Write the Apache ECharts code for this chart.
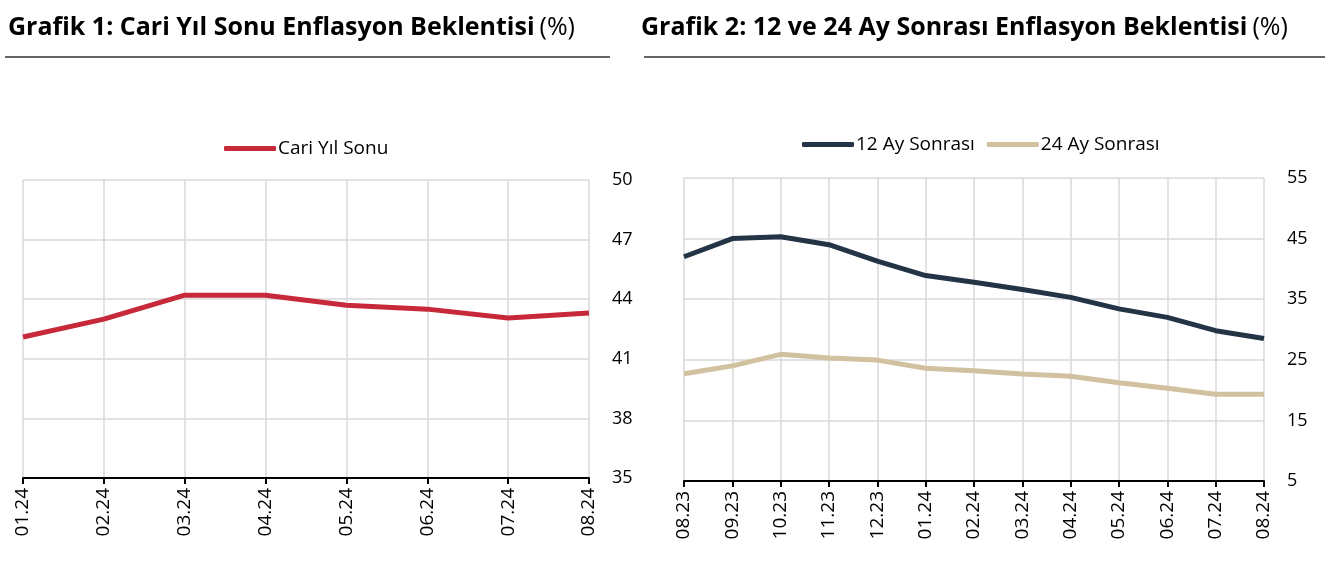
<!DOCTYPE html>
<html style="height: 100%">
<head>
<meta charset="utf-8">
<script src="https://cdn.jsdelivr.net/npm/echarts@6/dist/echarts.min.js"></script>
</head>
<body style="height: 100%; margin: 0; background: #fff">
<div id="container" style="width: 1338px; height: 578px"></div>
<script type="text/javascript">
// Grafik 1
var months1 = ['01.24', '02.24', '03.24', '04.24', '05.24', '06.24', '07.24', '08.24'];
var cariYilSonu = [42.1, 43.0, 44.2, 44.2, 43.7, 43.5, 43.05, 43.3];

// Grafik 2
var months2 = ['08.23', '09.23', '10.23', '11.23', '12.23', '01.24', '02.24', '03.24', '04.24', '05.24', '06.24', '07.24', '08.24'];
var ay12 = [42.0, 45.0, 45.3, 44.0, 41.3, 38.9, 37.8, 36.6, 35.3, 33.4, 32.0, 29.8, 28.5];
var ay24 = [22.7, 24.0, 25.9, 25.3, 24.95, 23.6, 23.2, 22.65, 22.3, 21.2, 20.3, 19.3, 19.3];

var FONT = 'Open Sans';
var dom = document.getElementById('container');
var myChart = echarts.init(dom);

function xAxisFor(idx, data) {
    return {
        type: 'category',
        gridIndex: idx,
        data: data,
        boundaryGap: false,
        axisLine: { lineStyle: { color: '#000', width: 2 } },
        axisTick: { show: true, length: 6, lineStyle: { color: '#000', width: 2 } },
        axisLabel: { rotate: 90, color: '#000', fontSize: 19, fontFamily: FONT, margin: 10 },
        splitLine: { show: true, lineStyle: { color: '#d9d9d9', width: 1.5 } }
    };
}

function yAxisFor(idx, min, max, step) {
    return {
        type: 'value',
        gridIndex: idx,
        position: 'right',
        min: min,
        max: max,
        interval: step,
        axisLine: { show: false },
        axisTick: { show: false },
        axisLabel: { color: '#000', fontSize: 18, fontFamily: FONT, margin: 23 },
        splitLine: { show: true, lineStyle: { color: '#d9d9d9', width: 1.5 } }
    };
}

var titleRich = {
    b: { fontFamily: FONT, fontWeight: 'bold', fontSize: 25, color: '#000' },
    n: { fontFamily: FONT, fontWeight: 'normal', fontSize: 25, color: '#000' }
};

var option = {
    animation: false,
    title: [
        { text: '{b|Grafik 1: Cari Yıl Sonu Enflasyon Beklentisi} {n|(%)}', left: 3, top: 10, textStyle: { rich: titleRich } },
        { text: '{b|Grafik 2: 12 ve 24 Ay Sonrası Enflasyon Beklentisi} {n|(%)}', left: 636, top: 10, textStyle: { rich: titleRich } }
    ],
    graphic: [
        { type: 'line', shape: { x1: 5, y1: 57, x2: 610, y2: 57 }, style: { stroke: '#333', lineWidth: 1.5 } },
        { type: 'line', shape: { x1: 644, y1: 57, x2: 1325, y2: 57 }, style: { stroke: '#333', lineWidth: 1.5 } }
    ],
    legend: [
        {
            data: ['Cari Yıl Sonu'],
            left: 219, top: 134,
            itemWidth: 52, itemHeight: 5, itemGap: 12,
            icon: 'roundRect',
            textStyle: { fontFamily: FONT, fontSize: 19, color: '#000', padding: [0, 0, 0, -3] }
        },
        {
            data: ['12 Ay Sonrası', '24 Ay Sonrası'],
            left: 797, top: 130,
            itemWidth: 52, itemHeight: 5, itemGap: 12,
            icon: 'roundRect',
            textStyle: { fontFamily: FONT, fontSize: 19, color: '#000', padding: [0, 0, 0, -3] }
        }
    ],
    grid: [
        { left: 23, top: 180, width: 566, height: 298 },
        { left: 684, top: 178, width: 580, height: 303 }
    ],
    xAxis: [xAxisFor(0, months1), xAxisFor(1, months2)],
    yAxis: [yAxisFor(0, 35, 50, 3), yAxisFor(1, 5, 55, 10)],
    series: [
        {
            name: 'Cari Yıl Sonu', type: 'line', xAxisIndex: 0, yAxisIndex: 0,
            data: cariYilSonu, showSymbol: false, symbol: 'none',
            lineStyle: { color: '#c8293a', width: 5 }, itemStyle: { color: '#c8293a' }
        },
        {
            name: '12 Ay Sonrası', type: 'line', xAxisIndex: 1, yAxisIndex: 1,
            data: ay12, showSymbol: false, symbol: 'none',
            lineStyle: { color: '#243447', width: 5 }, itemStyle: { color: '#243447' }
        },
        {
            name: '24 Ay Sonrası', type: 'line', xAxisIndex: 1, yAxisIndex: 1,
            data: ay24, showSymbol: false, symbol: 'none',
            lineStyle: { color: '#d2c19f', width: 5 }, itemStyle: { color: '#d2c19f' }
        }
    ]
};

myChart.setOption(option);
</script>
</body>
</html>
